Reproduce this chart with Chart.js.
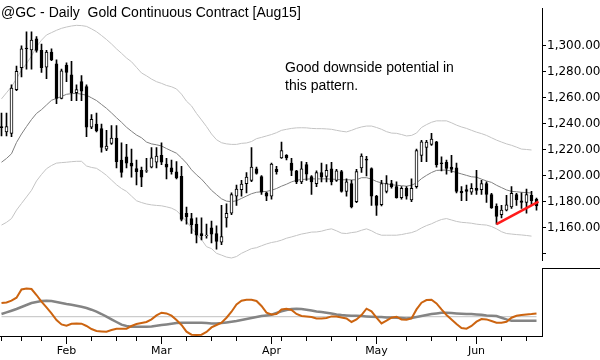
<!DOCTYPE html>
<html><head><meta charset="utf-8">
<script src="https://cdn.jsdelivr.net/npm/chart.js@4.4.1/dist/chart.umd.min.js"></script>
<style>
html,body{margin:0;padding:0;background:#fff;width:600px;height:360px;overflow:hidden;}
#wrap{position:relative;width:600px;height:360px;background:#fff;}
canvas{position:absolute;left:0;}
#cA{top:0;width:600px;height:269px;}
#cB{top:269px;width:600px;height:91px;}
.txt{position:absolute;font-family:"Liberation Sans",Arial,sans-serif;font-size:14px;color:#000;white-space:nowrap;}
#title{left:1px;top:4px;line-height:16px;}
#note{left:285px;top:58px;line-height:18px;}
</style></head><body>
<div id="wrap">
<canvas id="cA" width="600" height="269"></canvas>
<canvas id="cB" width="600" height="91"></canvas>
<div id="title" class="txt">@GC - Daily&nbsp; Gold Continuous Contract [Aug15]</div>
<div id="note" class="txt">Good downside potential in<br>this pattern.</div>
</div>
<script>
// ---- daily OHLC (trading days 13 Jan – 17 Jun 2015, index 0..107) ----
const open = [1237.8,1233.8,1232.7,1266.3,1283.2,1298.3,1296.9,1305.3,1296.4,1283.6,
1295.2,1286.1,1259.6,1285.1,1277.6,1263.9,1272.4,1268.7,1237.4,1239.9,
1236.3,1220.6,1224.9,1229.0,1212.2,1214.6,1209.8,1205.7,1204.2,1203.6,
1206.7,1210.5,1215.8,1209.1,1206.2,1203.1,1199.7,1171.3,1167.2,1162.9,
1155.7,1154.0,1160.0,1155.7,1149.0,1167.7,1171.3,1184.5,1189.4,1194.1,
1196.6,1205.5,1199.5,1186.9,1184.5,1205.0,1213.9,1215.8,1209.8,1203.8,
1195.4,1208.6,1199.5,1194.1,1202.6,1199.5,1205.5,1196.6,1203.3,1188.1,
1194.1,1180.2,1206.2,1213.0,1205.7,1184.5,1177.8,1188.1,1194.1,1191.7,
1183.3,1190.5,1181.6,1191.7,1215.8,1221.8,1224.2,1226.2,1210.0,1210.5,
1206.7,1206.2,1188.1,1189.4,1187.4,1190.5,1189.4,1194.1,1185.7,1176.6,
1170.1,1173.7,1176.1,1185.7,1180.9,1179.7,1185.0,1182.0];
const high = [1248.3,1248.3,1269.9,1284.3,1300.0,1310.8,1310.8,1307.0,1301.2,1296.4,
1297.6,1289.2,1282.0,1286.8,1288.0,1269.9,1277.1,1269.9,1247.1,1248.3,
1239.9,1235.0,1238.7,1238.7,1225.4,1224.2,1220.6,1212.2,1206.7,1213.4,
1221.8,1221.8,1225.4,1213.4,1212.2,1211.0,1207.4,1176.1,1171.3,1167.7,
1167.7,1162.9,1165.3,1161.7,1177.3,1178.5,1186.9,1193.0,1196.6,1202.6,
1221.8,1206.7,1200.2,1187.5,1209.8,1207.4,1225.9,1216.3,1213.4,1204.2,
1211.0,1210.5,1200.2,1203.8,1209.8,1208.6,1210.5,1205.0,1204.2,1197.7,
1196.6,1205.0,1217.0,1215.0,1206.2,1185.0,1196.6,1200.2,1196.6,1195.4,
1191.7,1191.7,1197.7,1220.6,1227.3,1227.3,1232.7,1226.6,1214.6,1212.2,
1215.8,1209.8,1191.7,1193.0,1194.1,1204.2,1196.6,1195.4,1186.5,1178.5,
1177.3,1185.0,1191.7,1186.5,1186.9,1189.8,1188.1,1183.0];
const low = [1230.7,1230.7,1230.2,1265.5,1276.0,1282.0,1282.0,1295.0,1279.6,1274.7,
1288.5,1255.5,1259.1,1272.4,1257.9,1257.9,1257.9,1230.2,1236.3,1233.8,
1218.2,1219.4,1224.2,1206.2,1199.0,1206.2,1199.0,1193.0,1191.7,1202.6,
1206.2,1206.2,1208.6,1197.7,1201.4,1197.7,1165.3,1162.9,1155.7,1148.4,
1150.8,1152.1,1148.4,1143.6,1147.2,1160.5,1170.1,1177.3,1184.5,1186.9,
1195.5,1201.4,1185.7,1180.9,1182.1,1201.4,1213.4,1212.2,1200.2,1194.1,
1194.1,1196.6,1185.7,1191.7,1195.4,1195.4,1193.0,1195.8,1187.5,1184.5,
1175.4,1179.5,1202.6,1200.0,1177.3,1169.6,1177.0,1186.9,1190.5,1182.8,
1182.1,1182.1,1180.2,1190.5,1211.0,1211.0,1223.5,1206.7,1203.8,1201.4,
1202.6,1186.9,1180.9,1180.9,1185.7,1185.7,1185.7,1179.7,1175.0,1162.9,
1167.7,1173.0,1175.0,1177.3,1175.0,1171.3,1177.3,1173.7];
const close = [1237.0,1237.9,1267.5,1280.3,1297.6,1297.6,1304.3,1296.4,1283.2,1295.2,
1289.2,1259.6,1280.8,1279.6,1263.9,1266.3,1265.1,1237.4,1243.5,1234.5,
1221.8,1223.0,1229.0,1211.0,1202.6,1209.8,1207.4,1203.3,1199.0,1204.0,
1213.9,1215.3,1210.5,1206.7,1203.3,1198.5,1166.5,1168.4,1162.4,1154.4,
1154.0,1154.6,1155.2,1149.7,1153.3,1171.3,1185.7,1189.8,1193.7,1199.0,
1206.7,1201.9,1187.4,1184.5,1209.1,1203.3,1219.4,1213.9,1204.2,1195.4,
1205.5,1201.4,1195.4,1202.6,1199.0,1204.2,1195.4,1203.8,1188.1,1195.4,
1176.1,1203.3,1215.3,1212.0,1184.5,1177.3,1194.1,1194.1,1191.7,1183.3,
1190.5,1184.5,1190.5,1219.4,1226.2,1225.9,1228.3,1208.6,1209.4,1205.7,
1205.0,1188.1,1186.9,1188.1,1190.5,1188.9,1194.1,1185.7,1175.4,1168.9,
1173.7,1177.8,1186.5,1181.6,1179.7,1185.7,1180.9,1177.0];

// ---- Bollinger bands ----
const bandUpper = [1259.2,1263.9,1268.6,1274.7,1281.2,1286.3,1292.1,1299.3,1304.3,1308.3,
1310.1,1311.9,1313.4,1314.4,1315.2,1315.7,1315.5,1314.9,1313.0,1310.8,
1307.9,1304.8,1301.4,1297.6,1294.2,1290.6,1287.7,1283.4,1279.1,1276.9,
1274.4,1272.4,1271.1,1269.5,1268.5,1266.8,1262.8,1257.4,1253.8,1248.0,
1243.0,1237.9,1232.2,1227.8,1225.5,1224.6,1224.2,1224.2,1225.0,1225.3,
1226.4,1228.6,1229.6,1230.7,1231.8,1233.2,1235.0,1235.8,1236.5,1236.9,
1237.0,1236.9,1236.5,1236.3,1236.3,1236.1,1235.8,1235.0,1234.3,1233.8,
1235.0,1236.5,1237.6,1238.3,1238.3,1237.2,1235.8,1234.0,1232.9,1232.7,
1231.8,1230.7,1231.1,1232.9,1237.2,1239.4,1241.2,1242.3,1242.3,1242.3,
1240.8,1239.0,1237.6,1236.5,1235.0,1233.6,1232.5,1231.1,1229.3,1227.5,
1226.0,1224.6,1223.5,1222.1,1220.6,1220.3,1219.9,null];
const bandMid = [1210.5,1213.4,1217.0,1225.7,1232.2,1237.9,1243.3,1248.0,1250.9,1254.5,
1258.1,1259.6,1261.0,1262.7,1263.2,1263.4,1262.8,1262.0,1260.0,1257.9,
1254.9,1251.9,1248.4,1244.7,1241.2,1237.4,1234.3,1231.4,1229.3,1226.0,
1224.6,1223.9,1223.0,1221.0,1219.2,1217.4,1213.8,1209.8,1204.7,1200.8,
1197.5,1193.2,1188.9,1185.6,1182.4,1180.6,1180.2,1180.9,1182.7,1184.5,
1186.3,1187.4,1187.8,1188.1,1188.9,1190.3,1192.1,1193.6,1195.4,1196.6,
1197.2,1197.5,1197.7,1197.7,1197.7,1197.7,1197.5,1197.3,1197.0,1197.0,
1197.0,1197.0,1198.6,1198.6,1197.5,1195.7,1194.6,1193.9,1193.2,1192.8,
1192.5,1192.1,1192.8,1194.6,1197.9,1200.4,1202.6,1204.2,1204.4,1204.5,
1203.7,1202.6,1201.5,1200.4,1199.3,1199.0,1197.5,1196.1,1195.0,1192.8,
1191.0,1189.2,1188.1,1187.8,1187.4,1187.1,1186.9,null];
const bandLower = [1162.2,1164.3,1167.2,1173.7,1178.8,1183.8,1188.9,1196.1,1201.1,1205.5,
1208.0,1209.8,1210.2,1210.5,1210.9,1211.2,1211.2,1207.6,1206.5,1205.8,
1203.3,1200.4,1196.8,1193.2,1190.3,1188.1,1184.5,1180.9,1179.5,1178.4,
1177.7,1177.3,1177.0,1176.2,1175.2,1173.3,1169.4,1165.0,1160.0,1155.7,
1151.0,1145.6,1144.1,1140.5,1139.1,1137.6,1136.9,1138.0,1140.5,1142.3,
1144.1,1144.8,1146.3,1147.7,1148.8,1149.5,1150.6,1152.1,1153.1,1154.2,
1155.3,1156.0,1156.8,1156.9,1157.5,1158.6,1159.3,1157.8,1156.0,1155.7,
1156.4,1156.9,1158.2,1159.3,1157.8,1155.7,1154.4,1154.4,1154.4,1154.4,
1154.9,1155.7,1156.4,1157.8,1160.0,1161.8,1163.2,1165.0,1166.5,1167.2,
1166.1,1165.0,1164.3,1164.0,1163.6,1162.9,1162.5,1162.2,1161.1,1159.3,
1157.1,1155.7,1155.3,1154.9,1154.6,1154.2,1153.7,null];

// ---- lower panel oscillator ----
const osc = [1.37,1.43,1.6,1.9,2.73,2.83,2.77,2.17,1.5,0.93,
0.33,-0.33,-0.77,-0.9,-0.7,-0.67,-0.7,-0.93,-1.23,-1.43,
-1.47,-1.5,-1.33,-1.2,-1.2,-1.2,-0.93,-0.73,-0.63,-0.53,
-0.27,0.13,0.4,0.33,0.1,-0.33,-0.83,-1.5,-1.8,-1.83,
-1.8,-1.53,-1.07,-0.83,-0.6,-0.1,0.5,1.23,1.6,1.7,
1.7,1.57,1.07,0.4,0.23,0.27,0.73,0.8,0.67,0.27,
0.07,0.03,-0.03,-0.17,-0.17,-0.13,0.03,0.03,-0.07,-0.17,
-0.53,-0.27,0.17,0.8,0.53,-0.1,-0.67,-0.4,-0.1,0,
-0.27,-0.3,-0.17,0.73,1.4,1.67,1.7,1.33,0.73,0.17,
-0.27,-0.73,-1.13,-1.2,-0.93,-0.5,-0.23,-0.27,-0.43,-0.6,
-0.6,-0.5,-0.1,0.1,0.17,0.23,0.27,0.33];
const oscAvg = [0.27,0.43,0.6,0.77,0.97,1.17,1.37,1.47,1.57,1.6,
1.57,1.47,1.37,1.27,1.2,1.1,1.0,0.87,0.7,0.5,
0.27,0,-0.27,-0.53,-0.8,-0.93,-1.0,-1.0,-1.0,-1.0,
-0.97,-0.9,-0.83,-0.77,-0.7,-0.63,-0.6,-0.6,-0.6,-0.6,
-0.6,-0.63,-0.67,-0.67,-0.63,-0.57,-0.5,-0.43,-0.33,-0.23,
-0.13,-0.03,0.07,0.13,0.2,0.37,0.53,0.67,0.77,0.8,
0.77,0.7,0.63,0.53,0.47,0.4,0.33,0.23,0.17,0.13,
0.1,0.1,0.07,0.03,0,-0.03,-0.03,-0.07,-0.07,-0.1,
-0.13,-0.17,-0.13,-0.03,0.07,0.17,0.27,0.33,0.4,0.4,
0.37,0.33,0.3,0.27,0.27,0.23,0.2,0.13,0.1,0.07,
-0.1,-0.27,-0.4,-0.4,-0.4,-0.4,-0.4,-0.4];

// ---- annotation trend line (bar index, price) ----
const trendX = [99, 107.4];
const trendY = [1162.9, 1180.2];

// ---- axis ticks ----
const priceTicks = [1140,1160,1180,1200,1220,1240,1260,1280,1300];
const priceTickLabels = ['','1,160.00','1,180.00','1,200.00','1,220.00','1,240.00','1,260.00','1,280.00','1,300.00'];
const monthTickIdx = [13,32,54,75,95];
const monthLabels = ['Feb','Mar','Apr','May','Jun'];
const weekTickIdx = [0,4,8,18,23,27,37,42,47,56,61,66,71,81,86,91,100,105];

// ---- build ----
const X_MIN = -0.3, X_MAX = 108.1;
const pts = arr => arr.map((v,i)=>({x:i, y:v}));
const bodies = open.map((o,i)=>({x:i, y:[o, close[i]]}));
const wicks = open.map((_,i)=>({x:i, y:[low[i], high[i]]}));
const bodyFill = open.map((o,i)=> close[i] >= o ? '#ffffff' : '#000000');
const trend = trendX.map((x,i)=>({x:x, y:trendY[i]}));

const sepPlugin = {
  id:'sep',
  afterDraw(chart){
    const c = chart.ctx, a = chart.chartArea;
    c.save(); c.strokeStyle='#000'; c.lineWidth=1;
    c.beginPath(); c.moveTo(a.right, chart.height-0.5); c.lineTo(chart.width, chart.height-0.5); c.stroke();
    c.restore();
  }
};

new Chart(document.getElementById('cA'), {
  type:'bar',
  data:{datasets:[
    {type:'line', data:trend, borderColor:'#ff1a1a', borderWidth:2.5, pointRadius:0, tension:0},
    {type:'bar', data:bodies, backgroundColor:bodyFill, borderColor:'#000', borderWidth:1, borderSkipped:false, barThickness:3, grouped:false},
    {type:'bar', data:wicks, backgroundColor:'#000', borderWidth:0, barThickness:1, grouped:false},
    {type:'line', data:pts(bandMid), borderColor:'#808080', borderWidth:1, pointRadius:0, tension:0},
    {type:'line', data:pts(bandUpper), borderColor:'#c4c4c4', borderWidth:1, pointRadius:0, tension:0},
    {type:'line', data:pts(bandLower), borderColor:'#c4c4c4', borderWidth:1, pointRadius:0, tension:0}
  ]},
  options:{
    responsive:false, animation:false, devicePixelRatio:1,
    layout:{padding:0},
    plugins:{legend:{display:false}, tooltip:{enabled:false}},
    scales:{
      x:{type:'linear', min:X_MIN, max:X_MAX, display:false, offset:false},
      y:{position:'right', min:1134.74, max:1328.87,
         afterFit:s=>{s.width=58;},
         afterBuildTicks:s=>{s.ticks = priceTicks.map(v=>({value:v}));},
         ticks:{callback:(v,i)=>priceTickLabels[i], autoSkip:false, color:'#000', padding:1,
                font:{family:'DejaVu Sans', size:12}},
         grid:{drawOnChartArea:false, drawTicks:true, tickLength:4, color:'#000'},
         border:{display:true, color:'#000', width:1}}
    }
  },
  plugins:[sepPlugin]
});

new Chart(document.getElementById('cB'), {
  type:'line',
  data:{datasets:[
    {data:pts(osc), borderColor:'#cc6410', borderWidth:2, pointRadius:0, tension:0},
    {data:pts(oscAvg), borderColor:'#848484', borderWidth:2.5, pointRadius:0, tension:0},
    {data:[{x:0,y:0},{x:107,y:0}], borderColor:'#c0c0c0', borderWidth:1, pointRadius:0}
  ]},
  options:{
    responsive:false, animation:false, devicePixelRatio:1,
    layout:{padding:0},
    plugins:{legend:{display:false}, tooltip:{enabled:false}},
    scales:{
      x:{type:'linear', min:X_MIN, max:X_MAX, offset:false,
         afterFit:s=>{s.height=24;},
         afterBuildTicks:s=>{s.ticks = weekTickIdx.concat(monthTickIdx).sort((a,b)=>a-b).map(v=>({value:v}));},
         ticks:{autoSkip:false, maxRotation:0, minRotation:0, color:'#000', padding:1,
                font:{family:'DejaVu Sans', size:11},
                callback:(v)=>{const k = monthTickIdx.indexOf(v); return k>=0 ? monthLabels[k] : '';}},
         grid:{drawOnChartArea:false, drawTicks:true, tickLength:8, color:'#000',
               tickBorderDash:(ctx)=> (ctx.tick && monthTickIdx.indexOf(ctx.tick.value)>=0) ? [] : [4,40]},
         border:{display:true, color:'#000', width:1}},
      y:{position:'right', min:-1.93, max:4.77,
         afterFit:s=>{s.width=58;},
         ticks:{display:false}, grid:{display:false},
         border:{display:true, color:'#000', width:1}}
    }
  }
});
</script>
</body></html>
